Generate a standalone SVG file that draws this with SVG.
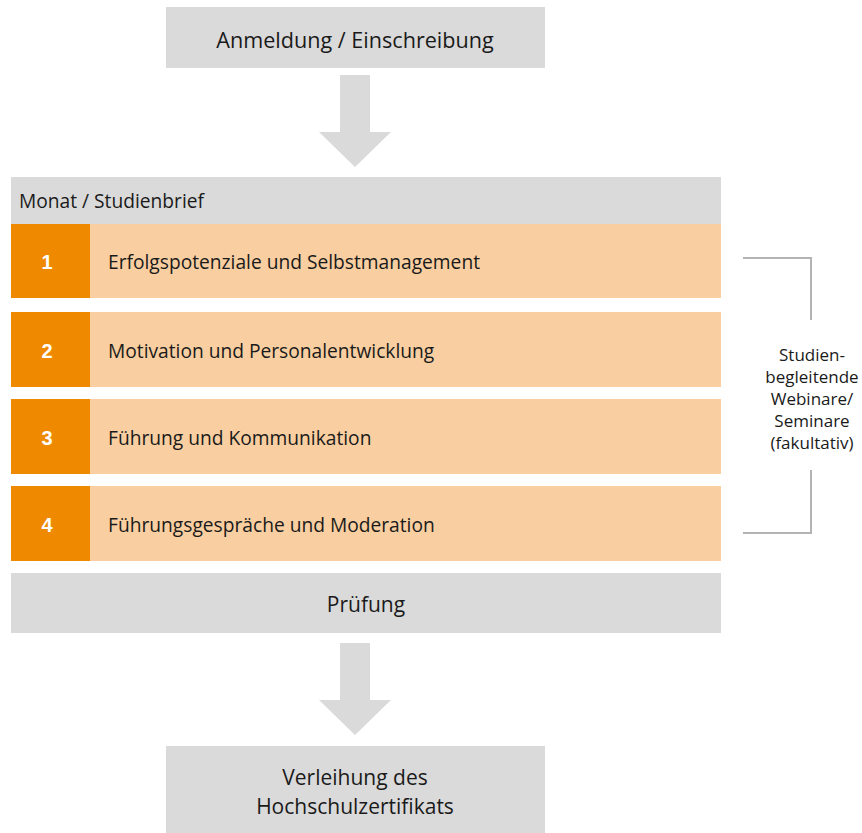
<svg xmlns="http://www.w3.org/2000/svg" width="862" height="833" viewBox="0 0 862 833">
<style>
text{font-family:"Open Sans","DejaVu Sans",sans-serif;fill:#1a1a1a}
.g{fill:#dadada}
.o{fill:#ef8a00}
.p{fill:#f9cfa1}
.num{font-family:"Liberation Sans",Arial,sans-serif;font-weight:bold;fill:#ffffff;font-size:20px;text-anchor:middle}
.lbl{font-size:19.2px}
.big{font-size:21px;text-anchor:middle}
.side{font-size:17px;text-anchor:middle}
.br{fill:none;stroke:#b3b3b3;stroke-width:2}
.arr{fill:#dadada}
</style>
<rect width="862" height="833" fill="#ffffff"/>
<g id="start">
<rect class="g" x="166" y="7" width="379" height="61"/>
<text class="big" x="355" y="48" style="font-size:21.6px">Anmeldung / Einschreibung</text>
</g>
<g id="header">
<rect class="g" x="11" y="177" width="710" height="47"/>
<text class="lbl" x="19" y="208">Monat / Studienbrief</text>
</g>
<g id="row1">
<rect class="p" x="90" y="224" width="631" height="74"/>
<rect class="o" x="11" y="224" width="79" height="74"/>
<text class="num" x="47" y="269">1</text>
<text class="lbl" x="108" y="269">Erfolgspotenziale und Selbstmanagement</text>
</g>
<g id="row2">
<rect class="p" x="90" y="312" width="631" height="75"/>
<rect class="o" x="11" y="312" width="79" height="75"/>
<text class="num" x="47" y="358">2</text>
<text class="lbl" x="108" y="358">Motivation und Personalentwicklung</text>
</g>
<g id="row3">
<rect class="p" x="90" y="399" width="631" height="75"/>
<rect class="o" x="11" y="399" width="79" height="75"/>
<text class="num" x="47" y="445">3</text>
<text class="lbl" x="108" y="445">Führung und Kommunikation</text>
</g>
<g id="row4">
<rect class="p" x="90" y="486" width="631" height="75"/>
<rect class="o" x="11" y="486" width="79" height="75"/>
<text class="num" x="47" y="532">4</text>
<text class="lbl" x="108" y="532">Führungsgespräche und Moderation</text>
</g>
<g id="exam">
<rect class="g" x="11" y="573" width="710" height="60"/>
<text class="big" x="366" y="612">Prüfung</text>
</g>
<g id="end">
<rect class="g" x="166" y="746" width="379" height="87"/>
<text class="big" x="355" y="785">Verleihung des</text>
<text class="big" x="355" y="814">Hochschulzertifikats</text>
</g>
<g id="seminars">
<text class="side" x="812" y="361">Studien-</text>
<text class="side" x="812" y="383">begleitende</text>
<text class="side" x="812" y="405">Webinare/</text>
<text class="side" x="812" y="427">Seminare</text>
<text class="side" x="812" y="449">(fakultativ)</text>
</g>
<g id="connectors">
<path class="arr" d="M340 75H370V132H391L355 167L319 132H340Z"/>
<path class="arr" d="M340 643H370V700H391L355 735L319 700H340Z"/>
<path class="br" d="M743 258H811V320"/>
<path class="br" d="M811 470V533H743"/>
</g>
</svg>
